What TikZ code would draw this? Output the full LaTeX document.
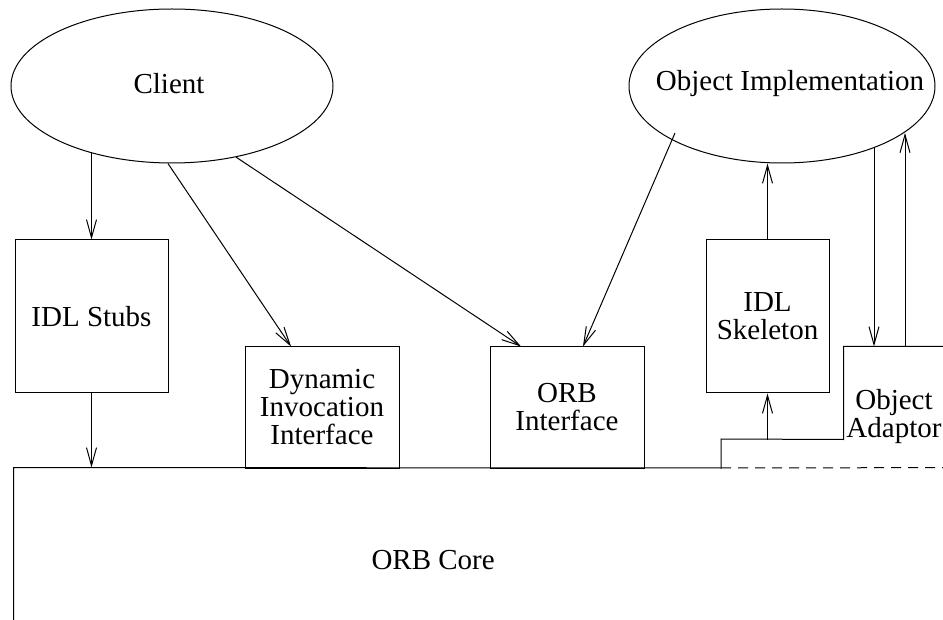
\documentclass[tikz,border=0pt]{standalone}
\usepackage{fontspec}
\setmainfont{Liberation Serif}
\usetikzlibrary{shapes.geometric,arrows.meta}
\begin{document}
\begin{tikzpicture}[x=1pt,y=-1pt,line width=1pt,
  font=\fontsize{29}{28}\selectfont,
  box/.style={draw,rectangle,inner sep=0pt,align=center},
  oval/.style={draw,ellipse,inner sep=0pt},
  lbl/.style={inner sep=0pt,align=center},
  arr/.style={-{Straight Barb[length=18pt,width=10pt]}}]
\useasboundingbox (0,0) rectangle (943,620);
\clip (0,0) rectangle (943,620);
% ellipses
\node[oval,minimum width=322pt,minimum height=154pt] (client) at (172,86) {};
\node[lbl] (clienttext) at (169,84) {Client};
\node[oval,minimum width=306pt,minimum height=154pt] (oi) at (782,86) {};
\node[lbl] (oitext) at (790,84) {Object Implementation};
% boxes
\node[box,minimum width=153pt,minimum height=153pt] (stubs) at (91.5,316.5) {IDL Stubs};
\node[box,minimum width=154pt,minimum height=121pt] (dii) at (322,407.5) {Dynamic\\Invocation\\Interface};
\node[box,minimum width=154pt,minimum height=121pt] (orbi) at (567,407.5) {ORB\\Interface};
\node[box,minimum width=123pt,minimum height=153pt] (skel) at (767.5,316.5) {IDL\\Skeleton};
% object adaptor
\node[inner sep=0pt,minimum width=156pt,minimum height=92pt] (oa) at (922,393) {};
\node[lbl] (oatext) at (894,417) {Object\\Adaptor};
\coordinate (stepA) at (721,439);
\coordinate (stepB) at (721,468);
\draw (oa.north east) -- (oa.north west) -- (oa.south west) -- (stepA) -- (stepB);
% ORB core
\node[inner sep=0pt,minimum width=986pt,minimum height=232pt] (core) at (507,584) {};
\node[lbl,anchor=west] (coretext) at (371,560) {ORB Core};
\draw (core.south west) -- (core.north west) -- (stepB);
\draw[dash pattern=on 10pt off 7pt] (stepB) -- (core.north east);
% connectors
\draw[arr] (stubs.north |- client.219) -- (stubs.north);
\draw[arr] (stubs.south) -- (stubs.south |- core.north);
\draw[arr] (client.267) -- ([xshift=-31pt]dii.north);
\draw[arr] (client.312) -- ([xshift=-46pt]orbi.north);
\coordinate (oiA) at (675,133);
\draw[arr] (oiA) -- ([xshift=16pt]orbi.north);
\draw[arr] (skel.north) -- (skel.north |- oi.south);
\draw[arr] (skel.south |- oa.south) -- (skel.south);
\draw[arr] ([xshift=-48pt]oa.north |- oi.326) -- ([xshift=-48pt]oa.north);
\draw[arr] ([xshift=-17pt]oa.north) -- ([xshift=-17pt]oa.north |- oi.339);
\end{tikzpicture}
\end{document}
